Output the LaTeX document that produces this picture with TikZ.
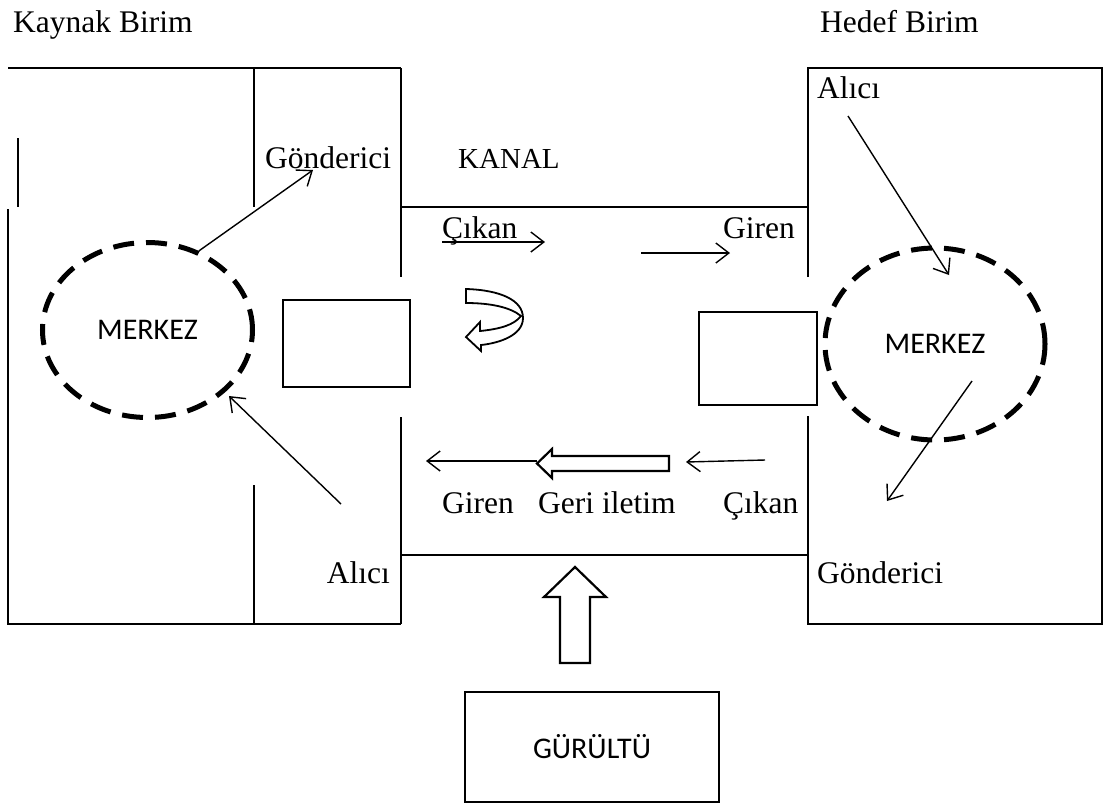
\documentclass[tikz,border=0pt]{standalone}
\usepackage{fontspec}
\setmainfont{Liberation Serif}
\newfontfamily\calibri{Carlito}
\usetikzlibrary{arrows.meta,shapes.geometric}
\begin{document}
\begin{tikzpicture}[x=1pt,y=-1pt,
  wall/.style={line width=2.2pt},
  lbl/.style={font=\fontsize{31.5}{36}\selectfont, inner sep=0, anchor=base west},
  lblr/.style={font=\fontsize{31.5}{36}\selectfont, inner sep=0, anchor=base east},
  tharrow/.style={line width=1.4pt, -{Straight Barb[length=13pt,width=20pt,line width=1.4pt]}},
  merkezstyle/.style={ellipse, draw, line width=5pt, dash pattern=on 21pt off 12pt, inner sep=0, font=\calibri\fontsize{30}{34}\selectfont},
  rectbox/.style={draw, line width=2.2pt, inner sep=0},
  block/.style={draw, line width=2.2pt, line join=miter}]
\useasboundingbox (0,0) rectangle (1105,807);
\fill[white] (0,0) rectangle (1105,807);

% titles
\node[lbl] (kaynak) at (13,32) {Kaynak Birim};
\node[lbl] (hedef) at (820,32) {Hedef Birim};

% left unit walls
\draw[wall] (8,68) -- (401,68);
\draw[wall] (254,68) -- (254,207);
\draw[wall] (401,68) -- (401,277);
\draw[wall] (18,138) -- (18,207);
\draw[wall] (8,209) -- (8,624) -- (401,624);
\draw[wall] (254,485) -- (254,624);
\draw[wall] (401,417) -- (401,624);

% channel
\draw[wall] (401,207) -- (808,207);
\draw[wall] (401,555) -- (808,555);

% right unit walls
\draw[wall] (808,277) -- (808,68) -- (1102,68) -- (1102,624) -- (808,624) -- (808,416);

% centres
\node[merkezstyle, minimum width=210pt, minimum height=175pt] (mL) at (147.5,330) {MERKEZ};
\node[merkezstyle, minimum width=220pt, minimum height=192pt] (mR) at (935,344) {MERKEZ};

% small boxes
\node[rectbox, minimum width=127pt, minimum height=87pt] (bL) at (346.5,343.5) {};
\node[rectbox, minimum width=118pt, minimum height=93pt] (bR) at (758,358.5) {};

% labels
\node[lbl] (gonL) at (265,168) {Gönderici};
\node[lbl, font=\fontsize{29}{34}\selectfont] (kanal) at (458,168) {KANAL};
\node[lbl] (cikanT) at (442,238) {Çıkan};
\node[lbl] (girenT) at (723,238) {Giren};
\node[lbl] (aliR) at (817,98) {Alıcı};
\node[lbl] (gonR) at (817,583) {Gönderici};
\node[lblr] (aliL) at (390,583) {Alıcı};
\node[lbl] (girenB) at (442,513) {Giren};
\node[lbl] (geri) at (538,513) {Geri iletim};
\node[lbl] (cikanB) at (723,513) {Çıkan};

% noise box
\node[rectbox, minimum width=254pt, minimum height=110pt, font=\calibri\fontsize{30}{34}\selectfont] (noise) at (592,747) {GÜRÜLTÜ};

% coordinates for free arrow ends
\coordinate (gonLtip) at (313,170);
\coordinate (aliLstart) at (341,504);
\coordinate (mLin) at (229,396);
\coordinate (aliRstart) at (848,116);
\coordinate (mRin) at (949,275);
\coordinate (mRout) at (972,381);
\coordinate (gonRtip) at (887,501);
\coordinate (c1s) at (442,242);
\coordinate (c1e) at (545,242);
\coordinate (g1s) at (641,253);
\coordinate (g1e) at (730,253);
\coordinate (gbs) at (537,461);
\coordinate (gbe) at (426,461);
\coordinate (cbs) at (765,460);
\coordinate (cbe) at (686,462);

% thin arrows
\draw[tharrow] (mL.57) -- (gonLtip);
\draw[tharrow] (aliLstart) -- (mLin);
\draw[tharrow] (aliRstart) -- (mRin);
\draw[tharrow] (mRout) -- (gonRtip);
\draw[tharrow] (c1s) -- (c1e);
\draw[tharrow] (g1s) -- (g1e);
\draw[tharrow] (gbs) -- (gbe);
\draw[tharrow] (cbs) -- (cbe);

% block arrow: Geri iletim
\draw[block] (669,456) -- (552,456) -- (552,449) -- (537,463.5) -- (552,478) -- (552,471) -- (669,471) -- cycle;

% block arrow: noise up
\draw[block] (575,567) -- (606,597) -- (590,597) -- (590,663) -- (560,663) -- (560,597) -- (544,597) -- cycle;

% curved ribbon arrow
\draw[line width=1.8pt, line join=miter]
  (466,289) .. controls (500,290) and (523,300) .. (523,318)
  .. controls (523,335) and (500,343) .. (481,345)
  -- (481,351) -- (466,337) -- (480,322) -- (480,331)
  .. controls (500,329) and (514,325) .. (521,316)
  .. controls (510,307) and (490,303) .. (466,303) -- cycle;
\end{tikzpicture}
\end{document}
